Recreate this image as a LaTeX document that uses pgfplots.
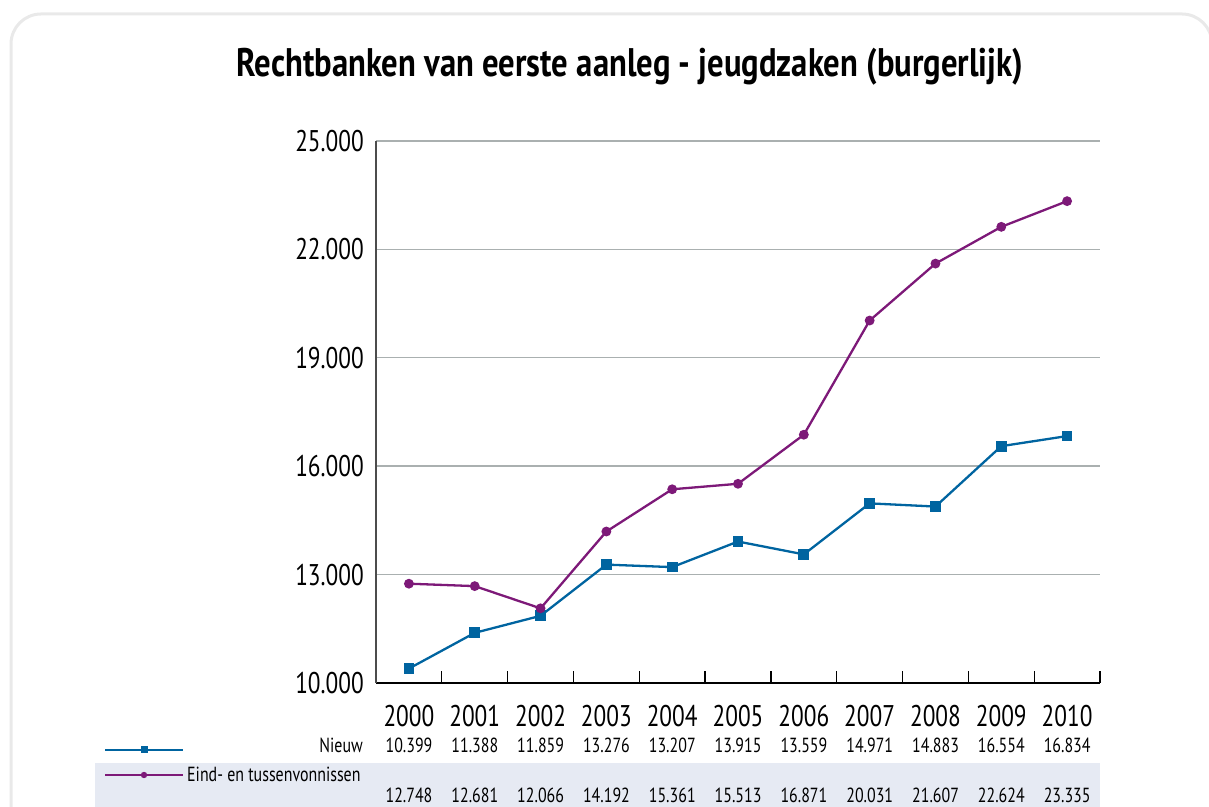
\documentclass[border=0pt]{standalone}
\usepackage{fontspec}
\setmainfont{PT Sans}
\newfontfamily\cond{PT Sans}[FakeStretch=0.78]
\newfontfamily\condt{PT Sans}[FakeStretch=0.82]
\usepackage{pgfplots}
\usepackage{pgfplotstable}
\pgfplotsset{compat=1.18}
\definecolor{cblue}{RGB}{0,100,160}
\definecolor{cpurp}{RGB}{125,25,120}
\definecolor{bandc}{RGB}{230,234,243}
\definecolor{gridc}{RGB}{170,176,176}
\definecolor{framec}{RGB}{233,233,233}
\pgfplotstableread{
i n e
0 10399 12748
1 11388 12681
2 11859 12066
3 13276 14192
4 13207 15361
5 13915 15513
6 13559 16871
7 14971 20031
8 14883 21607
9 16554 22624
10 16834 23335
}\data
\begin{document}
\begin{tikzpicture}[x=1bp,y=1bp]
\useasboundingbox (0,0) rectangle (1209,807);
\begin{scope}
\clip (0,0) rectangle (1209,807);
\draw[framec, line width=3bp, rounded corners=30bp] (11,793) rectangle (1212,-60);
\fill[bandc] (95,0) rectangle (1100,44);
\end{scope}
\node[anchor=base, inner sep=0pt, font=\condt\bfseries\fontsize{40}{42}\selectfont] at (630,730) {Rechtbanken van eerste aanleg - jeugdzaken (burgerlijk)};
\begin{axis}[
  at={(376bp,124bp)}, anchor=south west,
  scale only axis, width=724bp, height=542bp,
  xmin=-0.5, xmax=10.5, ymin=10000, ymax=25000,
  axis lines*=left, clip=false, scaled y ticks=false,
  x axis line style={black, line width=1.5bp},
  y axis line style={black!70, line width=1.5bp},
  ytick={10000,13000,16000,19000,22000,25000},
  yticklabels={10.000,13.000,16.000,19.000,22.000,25.000},
  ymajorgrids, grid style={gridc, line width=1.4bp},
  xtick={0,...,10},
  xticklabels={2000,2001,2002,2003,2004,2005,2006,2007,2008,2009,2010},
  major tick length=0pt,
  minor xtick={0.5,1.5,...,10.5},
  minor tick length=12bp, tick align=inside,
  minor x tick style={black, line width=1.3bp},
  yticklabel style={font=\cond\fontsize{30}{32}\selectfont, inner sep=0pt, anchor=east, xshift=-12bp},
  xticklabel style={font=\cond\fontsize{30}{32}\selectfont, inner sep=0pt, anchor=north, yshift=-22bp},
]
\addplot[cblue, line width=2.3bp, mark=square*, mark size=4.2bp] table[x=i,y=n] {\data};
\addplot[cpurp, line width=2.3bp, mark=*, mark size=3.7bp] table[x=i,y=e] {\data};
\end{axis}
\begin{scope}[font=\cond\fontsize{20.5}{22}\selectfont]
\node[anchor=base east, inner sep=0pt] at (363,54) {Nieuw};
\node[anchor=base west, inner sep=0pt] at (187,25) {Eind- en tussenvonnissen};
\foreach \v [count=\k from 0] in {10.399,11.388,11.859,13.276,13.207,13.915,13.559,14.971,14.883,16.554,16.834}
  \node[anchor=base, inner sep=0pt] at (409+65.818*\k,54) {\v};
\foreach \v [count=\k from 0] in {12.748,12.681,12.066,14.192,15.361,15.513,16.871,20.031,21.607,22.624,23.335}
  \node[anchor=base, inner sep=0pt] at (409+65.818*\k,4.5) {\v};
\end{scope}
\draw[cblue, line width=1.8bp] (105,57) -- (183,57);
\fill[cblue] (140.5,53.5) rectangle (147.5,60.5);
\draw[cpurp, line width=1.8bp] (105,32) -- (183,32);
\fill[cpurp] (144,32) circle (3.2bp);
\end{tikzpicture}
\end{document}
